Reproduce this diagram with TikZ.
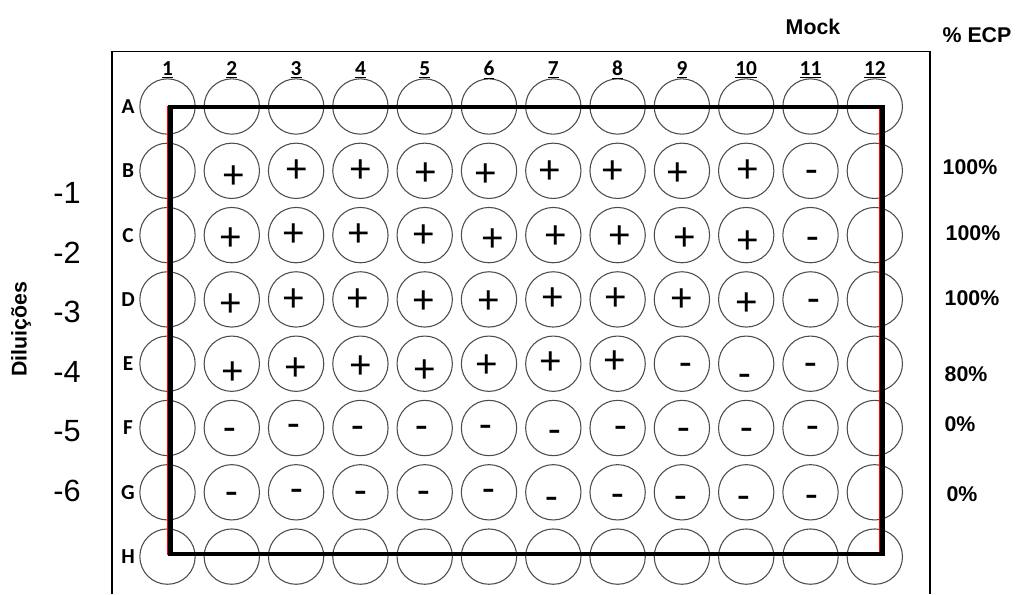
\documentclass[tikz,border=0pt]{standalone}
\usepackage{fontspec}
\setmainfont{Carlito}
\newfontfamily\arialfont{Liberation Sans}
\usepackage{tikz}
\usetikzlibrary{calc}
\tikzset{
    % one well of the plate
    well/.style={
        circle,
        draw=black!70,
        line width=0.8pt,
        minimum size=41.5pt,
        inner sep=0pt,
    },
    % row and column names of the plate
    plate label/.style={
        font=\fontsize{16}{18}\selectfont\bfseries,
    },
    % + and - inside the wells
    sign/.style={
        font=\fontsize{31}{32}\selectfont,
        inner sep=0pt,
        text height=#1,
        text depth=0pt,
    },
    plus/.style={sign=20pt},
    minus/.style={sign=20pt},
    % dilution numbers at the left
    dilution/.style={
        font=\arialfont\fontsize{23}{26}\selectfont,
    },
    % bold side texts
    side label/.style={
        font=\arialfont\fontsize{16}{18}\selectfont\bfseries,
    },
}

\begin{document}
\begin{tikzpicture}[x=0.75pt, y=-0.75pt]
    \useasboundingbox (0,0) rectangle (1019,594);

    % plate outline
    \draw [line width=0.8pt] (112,594) -- (112,51.5) -- (930,51.5) -- (930,594);

    % wells
    \foreach \r [count=\i from 0] in {A,B,C,D,E,F,G,H} {
        \node [plate label] (row-\r) at (128,106.5+64.3*\i) {\r};
        \foreach \c in {1,...,12} {
            \node [well] (w-\r-\c) at (167.5+64.3*\c-64.3,106.5+64.3*\i) {};
        }
    }
    \foreach \c in {1,...,12} {
        \node [plate label] (col-\c) at (167.5+64.3*\c-64.3,70) {\underline{\c}};
    }

    % region of the test
    \draw [red, line width=0.9pt] (167.6,107) rectangle (879.4,554);
    \draw [line width=3.4pt] (170.5,107) rectangle (882.5,554);

    % results
    \foreach \c/\dx/\dy in {2/2/4,3/1/-2,4/0/-2,5/1/1,6/-3/2,7/-4/-1,8/-5/-1,9/-4/1,10/2/-2}
        \node [plus] at ($(w-B-\c)+(\dx,\dy)$) {+};
    \foreach \c/\dx/\dy in {2/-1/2,3/-2/-2,4/-2/-2,5/-1/-1,6/4/3,7/2/0,8/2/0,9/3/2,10/2/5}
        \node [plus] at ($(w-C-\c)+(\dx,\dy)$) {+};
    \foreach \c/\dx/\dy in {2/-1/4,3/-2/-1,4/-3/-1,5/-1/1,6/0/1,7/-1/-2,8/-2/-2,9/0/-1,10/1/3}
        \node [plus] at ($(w-D-\c)+(\dx,\dy)$) {+};
    \foreach \c/\dx/\dy in {2/1/7,3/0/3,4/0/1,5/0/5,6/-2/0,7/-3/-3,8/-3/-4}
        \node [plus] at ($(w-E-\c)+(\dx,\dy)$) {+};
    \foreach \r/\c/\dx/\dy in {B/11/1/-1,C/11/2/2,D/11/3/0,E/9/4/-1,E/10/-1/10,E/11/0/-1,
        F/2/-2/0,F/3/-2/-4,F/4/-3/-2,F/5/-3/-2,F/6/-3/-3,F/7/2/2,F/8/3/-2,F/9/2/0,F/10/1/0,F/11/2/-2,
        G/2/0/0,G/3/1/-3,G/4/0/-1,G/5/-1/-1,G/6/0/-3,G/7/-1/5,G/8/0/2,G/9/-1/4,G/10/-2/4,G/11/1/3}
        \node [minus] at ($(w-\r-\c)+(\dx,\dy)$) {-};

    % dilutions
    \foreach \d [count=\i from 0] in {-1,-2,-3,-4,-5,-6}
        \node [dilution] (dil\d) at (67,193+59.5*\i) {\d};
    \node [side label, rotate=90] (dil) at (21,329) {Diluições};

    % mock and percentages
    \node [side label] (mock) at (813,27) {Mock};
    \node [side label] (ecp) at (977,35) {\% ECP};
    \node [side label] (p-B) at (970,167) {100\%};
    \node [side label] (p-C) at (973,233) {100\%};
    \node [side label] (p-D) at (972,298) {100\%};
    \node [side label] (p-E) at (966,374) {80\%};
    \node [side label] (p-F) at (960,424) {0\%};
    \node [side label] (p-G) at (962,494) {0\%};
\end{tikzpicture}
\end{document}
